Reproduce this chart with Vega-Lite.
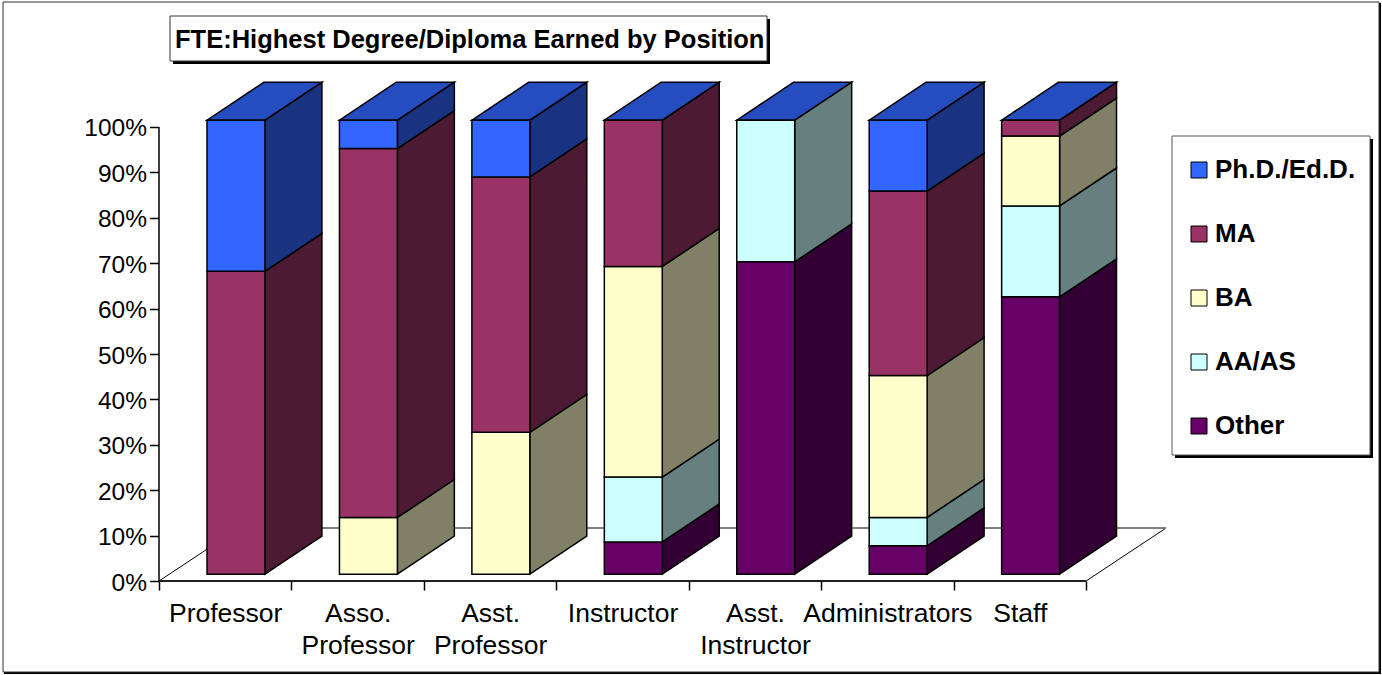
{
"$schema":"https://vega.github.io/schema/vega-lite/v6.json",
"width":1382,"height":675,"padding":0,"autosize":{"type":"none"},"background":"white",
"view":{"stroke":null},
"config":{"font":"Liberation Sans"},
"title":{"text":"FTE:Highest Degree/Diploma Earned by Position","anchor":"start","frame":"group","dx":175,"dy":73,"offset":0,"font":"Liberation Sans","fontSize":25.5,"fontWeight":"bold","color":"black","baseline":"alphabetic"},
"datasets":{
"degrees":[
{"position":"Professor","degree":"MA","share":0.667},
{"position":"Professor","degree":"Ph.D./Ed.D.","share":0.333},
{"position":"Asso. Professor","degree":"BA","share":0.125},
{"position":"Asso. Professor","degree":"MA","share":0.8125},
{"position":"Asso. Professor","degree":"Ph.D./Ed.D.","share":0.0625},
{"position":"Asst. Professor","degree":"BA","share":0.3125},
{"position":"Asst. Professor","degree":"MA","share":0.5625},
{"position":"Asst. Professor","degree":"Ph.D./Ed.D.","share":0.125},
{"position":"Instructor","degree":"Other","share":0.071},
{"position":"Instructor","degree":"AA/AS","share":0.143},
{"position":"Instructor","degree":"BA","share":0.464},
{"position":"Instructor","degree":"MA","share":0.322},
{"position":"Asst. Instructor","degree":"Other","share":0.688},
{"position":"Asst. Instructor","degree":"AA/AS","share":0.312},
{"position":"Administrators","degree":"Other","share":0.0625},
{"position":"Administrators","degree":"AA/AS","share":0.0625},
{"position":"Administrators","degree":"BA","share":0.3125},
{"position":"Administrators","degree":"MA","share":0.4063},
{"position":"Administrators","degree":"Ph.D./Ed.D.","share":0.1562},
{"position":"Staff","degree":"Other","share":0.611},
{"position":"Staff","degree":"AA/AS","share":0.2},
{"position":"Staff","degree":"BA","share":0.154},
{"position":"Staff","degree":"MA","share":0.035}
],
"depths":[{"depth":0},{"depth":1}]
},
"layer":[
{"data":{"values":[{}]},"mark":{"type":"rect","fill":"black"},"encoding":{"x":{"value":4},"x2":{"value":1381},"y":{"value":3},"y2":{"value":674}}},
{"data":{"values":[{}]},"mark":{"type":"rect","fill":"white","stroke":"#333333","strokeWidth":1},"encoding":{"x":{"value":3},"x2":{"value":1379},"y":{"value":2},"y2":{"value":672}}},
{"data":{"name":"depths"},
 "transform":[{"calculate":"datum.depth*0.604","as":"fx0"},{"calculate":"7+datum.depth*0.604","as":"fx1"},{"calculate":"datum.depth*0.1167","as":"fy"}],
 "mark":{"type":"area","orient":"horizontal","fill":"white","stroke":"black","strokeWidth":1},
 "encoding":{
  "y":{"field":"fy","type":"quantitative","stack":null,"scale":{"domain":[-0.207,1.2797],"nice":false,"zero":false},
   "axis":{"title":null,"orient":"left","offset":-158.5,"zindex":1,"domain":false,"grid":false,"values":[0,0.1,0.2,0.3,0.4,0.5,0.6,0.7,0.8,0.9,1],"format":".0%","labelFontSize":24.5,"labelColor":"black","labelPadding":3,"labelOffset":2,"tickSize":9,"tickColor":"black","tickWidth":1.5,"labelFont":"Liberation Sans"}},
  "x":{"field":"fx0","type":"quantitative","scale":{"domain":[-1.2006,9.2345],"nice":false,"zero":false},
   "axis":{"title":null,"orient":"bottom","offset":-94,"zindex":1,"domain":false,"grid":false,"values":[0,0.5,1,1.5,2,2.5,3,3.5,4,4.5,5,5.5,6,6.5,7],
    "labelExpr":"datum.value%1===0?'':split(['Professor','Asso. Professor','Asst. Professor','Instructor','Asst. Instructor','Administrators','Staff'][floor(datum.value)],' ')",
    "labelFontSize":26.5,"labelColor":"black","labelFont":"Liberation Sans","labelOverlap":false,"labelFlush":false,"labelBound":false,"labelLineHeight":32,"labelPadding":19,"labelBaseline":"top",
    "tickSize":{"condition":{"test":"datum.value%1===0","value":9},"value":0},"tickColor":"black","tickWidth":1.5}},
  "x2":{"field":"fx1"}
 }},
{"data":{"values":[{}]},"mark":{"type":"rule","stroke":"#808080","strokeWidth":2},"encoding":{"x":{"datum":0.604,"type":"quantitative","axis":null},"x2":{"datum":7.604},"y":{"datum":0.1167,"type":"quantitative","axis":null}}},
{"data":{"values":[{}]},"mark":{"type":"rule","stroke":"black","strokeWidth":1.5},"encoding":{"x":{"datum":0,"type":"quantitative","axis":null},"x2":{"datum":7},"y":{"datum":0,"type":"quantitative","axis":null}}},
{"data":{"values":[{}]},"mark":{"type":"rule","stroke":"black","strokeWidth":1.5},"encoding":{"x":{"datum":0,"type":"quantitative","axis":null},"y":{"datum":0,"type":"quantitative","axis":null},"y2":{"datum":1}}},
{"data":{"name":"degrees"},
 "transform":[
  {"calculate":"indexof(['Professor','Asso. Professor','Asst. Professor','Instructor','Asst. Instructor','Administrators','Staff'],datum.position)","as":"ix"},
  {"stack":"share","groupby":["position"],"as":["y0","y1"]},
  {"calculate":"[0,1]","as":"depth"},{"flatten":["depth"]},
  {"calculate":"datum.ix+0.8+datum.depth*0.43","as":"sx"},
  {"calculate":"datum.y0+0.015+datum.depth*0.0837","as":"sa"},
  {"calculate":"datum.y1+0.015+datum.depth*0.0837","as":"sb"}
 ],
 "mark":{"type":"area","orient":"vertical","stroke":"black","strokeWidth":1.5},
 "encoding":{
  "x":{"field":"sx","type":"quantitative","axis":null},
  "y":{"field":"sa","type":"quantitative","axis":null,"stack":null},
  "y2":{"field":"sb"},
  "detail":{"field":"position"},
  "color":{"field":"degree","type":"nominal","legend":null,"scale":{"domain":["Ph.D./Ed.D.","MA","BA","AA/AS","Other"],"range":["#1A3380","#4D1A33","#808066","#668080","#330033"]}}
 }},
{"data":{"name":"degrees"},
 "transform":[
  {"calculate":"indexof(['Professor','Asso. Professor','Asst. Professor','Instructor','Asst. Instructor','Administrators','Staff'],datum.position)","as":"ix"},
  {"aggregate":[{"op":"sum","field":"share","as":"total"}],"groupby":["position","ix"]},
  {"calculate":"[0,1]","as":"depth"},{"flatten":["depth"]},
  {"calculate":"datum.ix+0.3625+datum.depth*0.43","as":"tx0"},
  {"calculate":"datum.ix+0.8+datum.depth*0.43","as":"tx1"},
  {"calculate":"datum.total+0.015+datum.depth*0.0837","as":"ty"}
 ],
 "mark":{"type":"area","orient":"horizontal","fill":"#264DBF","stroke":"black","strokeWidth":1.5},
 "encoding":{
  "y":{"field":"ty","type":"quantitative","axis":null,"stack":null},
  "x":{"field":"tx0","type":"quantitative","axis":null},
  "x2":{"field":"tx1"},
  "detail":{"field":"position"}
 }},
{"data":{"values":[{}]},"mark":{"type":"rect","fill":"black"},"encoding":{"x":{"value":1175},"x2":{"value":1373},"y":{"value":139},"y2":{"value":458}}},
{"data":{"values":[{}]},"mark":{"type":"rect","fill":"white","stroke":"#555555","strokeWidth":1},"encoding":{"x":{"value":1172},"x2":{"value":1370},"y":{"value":136},"y2":{"value":455}}},
{"data":{"values":[{}]},"mark":{"type":"rect","fill":"black"},"encoding":{"x":{"value":173},"x2":{"value":770},"y":{"value":19},"y2":{"value":64}}},
{"data":{"values":[{}]},"mark":{"type":"rect","fill":"white","stroke":"#333333","strokeWidth":1},"encoding":{"x":{"value":170},"x2":{"value":767},"y":{"value":16},"y2":{"value":61}}},
{"data":{"name":"degrees"},
 "transform":[
  {"calculate":"indexof(['Professor','Asso. Professor','Asst. Professor','Instructor','Asst. Instructor','Administrators','Staff'],datum.position)","as":"ix"},
  {"stack":"share","groupby":["position"],"as":["y0","y1"]},
  {"calculate":"datum.ix+0.3625","as":"fx0"},{"calculate":"datum.ix+0.8","as":"fx1"},
  {"calculate":"datum.y0+0.015","as":"fa"},{"calculate":"datum.y1+0.015","as":"fb"}
 ],
 "mark":{"type":"rect","stroke":"black","strokeWidth":1.5},
 "encoding":{
  "x":{"field":"fx0","type":"quantitative","axis":null},"x2":{"field":"fx1"},
  "y":{"field":"fa","type":"quantitative","axis":null},"y2":{"field":"fb"},
  "color":{"field":"degree","type":"nominal","scale":{"domain":["Ph.D./Ed.D.","MA","BA","AA/AS","Other"],"range":["#3366FF","#993366","#FFFFCC","#CCFFFF","#660066"]},
   "legend":{"title":null,"orient":"none","legendX":1186,"legendY":157,"padding":0,"symbolType":"square","symbolSize":256,"symbolStrokeColor":"black","symbolStrokeWidth":1,"symbolOpacity":1,"labelFont":"Liberation Sans","labelFontSize":26,"labelFontWeight":"bold","labelColor":"black","labelOffset":3,"rowPadding":38,"labelLimit":300}}
 }}
],
"resolve":{"scale":{"color":"independent"},"axis":{"x":"independent","y":"independent"}}
}
